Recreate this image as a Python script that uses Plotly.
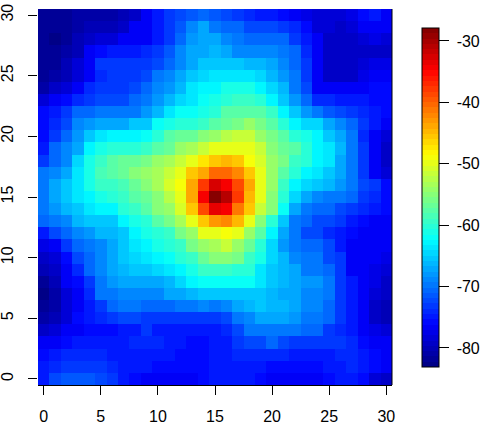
import plotly.graph_objects as go

x_vals = list(range(31))
y_vals = list(range(31))
x_ticks = [0, 5, 10, 15, 20, 25, 30]
y_ticks = [0, 5, 10, 15, 20, 25, 30]
bar_ticks = [-30, -40, -50, -60, -70, -80]
bar_labels = ["-30", "-40", "-50", "-60", "-70", "-80"]
z_min = -83.1
z_max = -27.9

# rows listed from y=30 at the top down to y=0
rows_top_down = [
 [-82,-82,-82,-81,-81,-81,-81,-80,-79,-77,-75,-73.5,-72.5,-71.5,-71,-71.5,-72.5,-73,-74,-75,-75,-76,-76.5,-77.5,-78,-78,-78,-77.5,-76,-75,-76.5],
 [-82,-82,-81.5,-81,-80,-80,-80,-79.5,-77,-76.5,-74.5,-73,-71.5,-68.5,-67.5,-69.5,-70.5,-71,-72,-72,-72,-73,-74,-76,-78,-78.5,-79,-78.5,-77,-77,-77],
 [-82,-83,-82,-80.5,-79,-78.5,-78,-76.5,-76.5,-77,-75,-73,-70.5,-68,-67,-67,-68.5,-69.5,-71,-71,-71,-71,-73,-74.5,-76.5,-79,-79.5,-79.5,-78.5,-77.5,-78],
 [-82,-82,-81,-80,-77,-75.5,-75,-75,-75,-74,-73,-71.5,-69,-67,-67,-66,-67,-68.5,-68.5,-68.5,-69,-70,-71,-74,-76.5,-79,-79.5,-79.5,-79.5,-79,-79.5],
 [-82,-82,-80.5,-78,-76.5,-73.5,-73,-73,-73,-73,-72,-70.5,-69,-67.5,-65.5,-65,-65,-65,-66,-66,-67,-68.5,-71,-73,-77,-79,-79.5,-79.5,-78,-77.5,-77.5],
 [-82,-81,-80.5,-78,-76.5,-74,-73,-73,-73,-72,-70,-69,-67,-65.5,-64.5,-63.5,-63.5,-63.5,-63.5,-64.5,-66,-68,-70,-73,-77,-79,-79,-79,-77.5,-77,-77],
 [-81,-79,-78.5,-76.5,-74,-73,-73,-73,-72,-71,-69,-68,-66,-63.5,-63,-62.4,-61.5,-61.5,-61.5,-62.4,-64.5,-66.5,-69.5,-72.5,-76.5,-76.5,-76.5,-76.5,-76.5,-75.5,-75.5],
 [-78,-76.5,-76,-74,-73,-72,-72,-72,-71,-70,-68,-66.5,-64.5,-63.5,-62.2,-61,-60.5,-59,-59,-60.5,-62.4,-65,-68,-71,-74,-74,-75,-75,-75,-75.5,-76],
 [-76,-75,-73,-71,-71,-69.5,-69.5,-69.5,-69.5,-68,-66,-64,-62,-62,-61.5,-60,-58,-57.5,-57.5,-57.5,-59,-62.4,-65.5,-68,-69.5,-71.5,-72.5,-73,-74,-75,-76],
 [-76,-74,-72,-69,-68,-67,-67,-67,-65.5,-65,-62,-61,-60,-60,-59,-58,-57,-56,-54.5,-56,-58,-60,-62.4,-64.5,-64.5,-67.5,-69,-71,-73,-75,-77],
 [-76,-73.5,-71,-68,-65.5,-63.5,-62.8,-62.8,-62.8,-62,-60.5,-58,-57,-57,-55,-54,-52.5,-52,-52,-54.5,-56,-58,-60,-61.5,-62.8,-65,-67.5,-70,-74,-77,-78.5],
 [-75,-71,-69,-67,-62.5,-61.5,-60.5,-60,-60,-59,-58,-56.5,-54,-53,-52,-50,-49.5,-49.5,-50,-52,-55,-56.5,-58,-60.5,-62.4,-64,-66.5,-69.5,-73,-77,-79],
 [-73.5,-71,-69,-64.5,-61.5,-59,-58,-57,-57,-56,-54,-53,-52,-50,-47.5,-45.5,-44.5,-45.5,-48.6,-51,-54,-56,-59,-60.5,-62.4,-64,-67,-69.5,-73,-77,-79],
 [-69.5,-68.5,-67,-63.5,-61,-58.5,-58,-57,-55.5,-54.5,-53,-52,-50,-46,-43.5,-40.5,-40,-42.5,-45.5,-50,-54,-57.5,-60.5,-62.4,-63.5,-65.5,-67.5,-69.5,-73,-77,-78],
 [-69.5,-67.5,-65.5,-63.5,-61.5,-59.5,-59,-58.5,-57,-55,-53.5,-51,-49,-44,-38,-33,-34.8,-39,-44,-49.5,-54,-59,-62.8,-64.5,-65.5,-66.5,-68,-69.5,-72,-73,-75.5],
 [-69.5,-67,-65.5,-64,-62.8,-61.5,-60.5,-59.5,-58,-57,-55,-52.5,-49.5,-43.5,-34.8,-28,-31,-38,-44.5,-50.3,-55.5,-60.5,-64.5,-67.5,-68.5,-69.5,-70,-71,-73,-74,-75.5],
 [-69.5,-68,-66.5,-65,-63.5,-63,-62.4,-60.5,-59,-58,-55.5,-53.8,-51,-45.5,-39,-33.5,-34,-41,-45.5,-52,-55.5,-62,-67.5,-70,-71,-71,-72,-73,-74,-75,-76],
 [-71,-70,-68.5,-66.5,-65.5,-65.5,-65,-62.4,-61.5,-60.5,-58,-56,-53.5,-50,-45.5,-43,-42.5,-44.5,-49.5,-55,-60,-65.5,-69.5,-71,-72,-72,-73,-75,-76,-76.5,-76.5],
 [-75,-72.5,-70.5,-68.5,-68,-66.5,-66,-65,-62.4,-61.5,-60.5,-59,-56,-53.8,-50.3,-49.5,-48.6,-50,-54,-58,-62.4,-67.5,-70,-72,-72,-74,-75,-76,-76.5,-76.5,-76.5],
 [-77.5,-76.5,-73,-71,-69.5,-68.5,-67,-65.5,-63.5,-62.8,-61.5,-60.5,-59,-56,-54.5,-53,-52,-54,-57,-60.5,-64.5,-68,-69.5,-71,-71,-72,-75,-77,-76.5,-76.5,-76.5],
 [-79,-78,-75.5,-72,-70.5,-68.5,-67.5,-65.5,-64.5,-63.5,-62.4,-62,-60.5,-59,-57,-55.5,-55.5,-56,-59,-61.5,-64.5,-66.5,-68.5,-70,-70,-72,-73,-77,-76.5,-77,-77.5],
 [-80.5,-79.5,-76.5,-74,-71,-68.5,-67.5,-66.5,-65.5,-65.5,-64.5,-63.5,-62.4,-61.5,-59,-59,-59,-60,-60.5,-63.5,-65,-66.5,-67.5,-69.5,-69.5,-71,-73,-77,-76.5,-77.5,-78],
 [-82,-80.5,-77,-76,-73,-69.5,-68,-67.5,-67.5,-67.5,-67,-66,-64.5,-62.4,-62.2,-62.2,-62.2,-62.2,-62.2,-63.5,-65.5,-66.5,-67.5,-68,-68,-70,-73,-75,-76.5,-77.5,-79],
 [-82.5,-81,-78,-76.5,-74,-70,-69.5,-68.5,-68.5,-68.5,-68.5,-67.5,-67,-66,-65,-65.5,-65,-65,-65,-65,-66,-67,-67.5,-68.5,-68.5,-69.5,-73,-75,-76.5,-78,-79.5],
 [-82,-81,-78.5,-76.5,-75,-73,-71,-70,-70,-71,-71,-71,-70,-70,-68.5,-69.5,-68.5,-67.5,-66.5,-65.5,-66.5,-66.5,-67.5,-68.5,-68.5,-71,-73,-75,-76.5,-79,-80],
 [-81,-80,-78,-76,-75,-74,-73,-72,-72,-73,-73,-73,-73,-73,-73,-73,-72,-70,-68.5,-67.5,-67.5,-67.5,-68,-69.5,-69.5,-71,-73,-75,-77,-79,-80],
 [-79.5,-78,-76.5,-76.5,-75.5,-75.5,-75.5,-75,-75,-73,-75,-75,-75,-75,-75,-75,-74,-72,-70,-69.5,-69.5,-69.5,-70,-71,-71,-73,-74,-75,-77,-77.5,-78],
 [-77,-76.5,-76,-75,-75,-75,-75,-75,-74,-74,-74,-75,-75,-76,-76,-75,-75,-73,-72,-72,-71,-72,-73,-73,-73,-73,-73,-74,-76,-76.5,-77],
 [-76,-75,-74,-74,-74,-74,-75,-75,-75,-75,-75,-75,-76,-76,-76,-75,-75,-74,-74,-74,-74,-74,-75,-75,-75,-75,-74,-74,-75,-76,-76.5],
 [-75,-74,-73,-73,-73,-73,-74,-75,-75,-75,-76,-76,-76,-76,-76,-75,-75,-75,-75,-75,-76,-76,-76,-76,-76,-75,-75,-74,-75,-76,-77],
 [-75,-72,-71.5,-71.5,-71.5,-72,-73,-75,-76,-76.5,-76.5,-76.5,-76.5,-76.5,-76,-75,-75,-75,-75,-76,-76.5,-76.5,-76.5,-76.5,-76.5,-76,-75,-75,-76,-78,-79],
]
z_rows = rows_top_down[::-1]

# 64-level jet palette as stepped colour bands
def jet(t):
    def ch(c):
        return max(0.0, min(1.0, 1.5 - abs(4 * t - c)))
    return "rgb(%d,%d,%d)" % tuple(round(255 * ch(c)) for c in (3, 2, 1))

N = 64
scale = []
for i in range(N):
    col = jet((i + 0.5) / N)
    scale.append([i / N, col])
    scale.append([(i + 1) / N, col])

W, H = 484, 427
L, R, T, B = 38, 392, 9, 385
pw, ph = R - L, B - T
FONT = "Liberation Sans, Arial, sans-serif"

fig = go.Figure(go.Heatmap(
    x=x_vals, y=y_vals, z=z_rows, zmin=z_min, zmax=z_max, colorscale=scale,
    hoverinfo="skip",
    colorbar=dict(
        thicknessmode="pixels", thickness=17, lenmode="pixels", len=339,
        x=(422 - L) / pw, xanchor="left", xpad=0,
        y=(B - 197.5) / ph, yanchor="middle", ypad=0,
        outlinewidth=1, outlinecolor="black",
        tickmode="array", tickvals=bar_ticks,
        ticktext=["\u00a0" + s for s in bar_labels],
        ticks="outside", ticklen=10, tickwidth=1, tickcolor="black",
        tickfont=dict(family=FONT, size=16, color="black"),
    ),
))
axis_common = dict(
    ticks="outside", ticklen=9, tickwidth=1, tickcolor="black",
    tickfont=dict(family=FONT, size=16, color="black"),
    showgrid=False, zeroline=False, tickmode="array", automargin=False,
)
fig.update_xaxes(range=[-0.5, 30.5], tickvals=x_ticks, showline=True,
                 linecolor="black", linewidth=1, ticklabelstandoff=8, **axis_common)
fig.update_yaxes(range=[-0.5, 30.5], tickvals=y_ticks, showline=False,
                 tickangle=-90, ticklabelstandoff=9, **axis_common)
fig.add_shape(type="line", xref="x domain", yref="y domain", x0=1, x1=1, y0=0, y1=1,
              line=dict(color="black", width=1))
fig.update_layout(
    width=W, height=H,
    margin=dict(l=L, r=W - R, t=T, b=H - B, pad=0, autoexpand=False),
    paper_bgcolor="white", plot_bgcolor="white", showlegend=False,
)
fig.write_html("out.html", config={"displayModeBar": False},
               post_script="document.body.style.margin='0';")
